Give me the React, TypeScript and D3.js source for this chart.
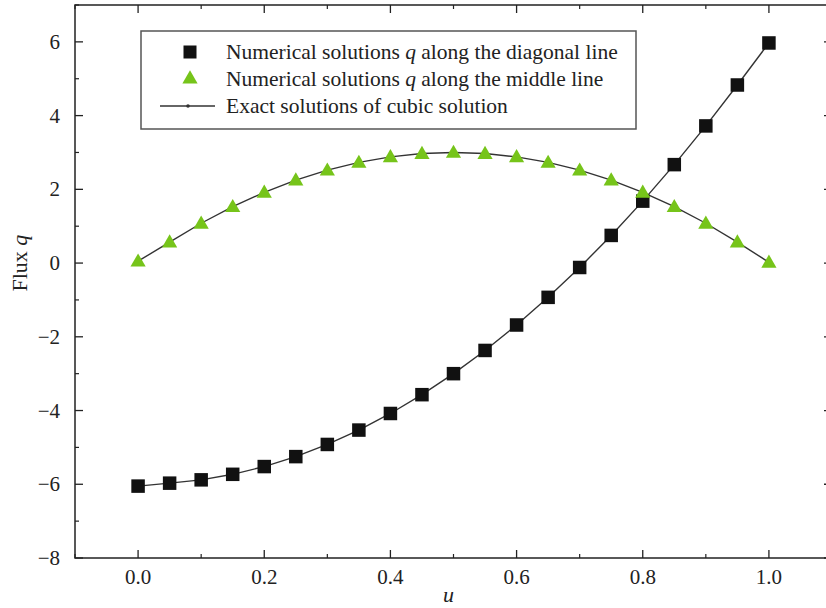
import React from "react";
import * as d3 from "d3";

const uValues = [0, 0.05, 0.1, 0.15, 0.2, 0.25, 0.3, 0.35, 0.4, 0.45, 0.5, 0.55, 0.6, 0.65, 0.7, 0.75, 0.8, 0.85, 0.9, 0.95, 1.0];
const diagonalQ = [-6.05, -5.97, -5.88, -5.73, -5.52, -5.25, -4.92, -4.53, -4.08, -3.57, -3.0, -2.37, -1.68, -0.93, -0.12, 0.75, 1.68, 2.67, 3.72, 4.83, 5.97];
const middleQ = [0.05, 0.57, 1.08, 1.53, 1.92, 2.25, 2.52, 2.73, 2.88, 2.97, 3.0, 2.97, 2.88, 2.73, 2.52, 2.25, 1.92, 1.53, 1.08, 0.57, 0.02];
const xTicks = [0, 0.2, 0.4, 0.6, 0.8, 1.0];
const xMinor = [-0.1, 0.1, 0.3, 0.5, 0.7, 0.9, 1.1];
const yTicks = [-8, -6, -4, -2, 0, 2, 4, 6];
const yMinor = [-7, -5, -3, -1, 1, 3, 5, 7];
const legendLabels = ["Numerical solutions ", "Numerical solutions ", "Exact solutions of cubic solution"];

const W = 826, H = 608;
const left = 75, top = 5, bottom = 558, right = 832;
const FONT = "'Liberation Serif', 'Times New Roman', serif";
const GREEN = "#76c41a";

export default function App() {
  const x = d3.scaleLinear().domain([-0.1, 1.1]).range([left, right]);
  const y = d3.scaleLinear().domain([-8, 7]).range([bottom, top]);
  const line = d3.line<number>().x((_, i) => x(uValues[i])).y((d) => y(d));
  const sq = 13.5;
  const tri = d3.symbol().type(d3.symbolTriangle).size(100)();
  const fs = 21;
  return (
    <svg width={W} height={H} style={{ position: "absolute", left: 0, top: 0, background: "#fff" }}>
      <path d={line(middleQ) || ""} fill="none" stroke="#333" strokeWidth={1.4} />
      <path d={line(diagonalQ) || ""} fill="none" stroke="#333" strokeWidth={1.4} />
      {diagonalQ.map((v, i) => (
        <rect key={"s" + i} x={x(uValues[i]) - sq / 2} y={y(v) - sq / 2} width={sq} height={sq} fill="#111" />
      ))}
      {middleQ.map((v, i) => (
        <path key={"t" + i} d={tri || ""} transform={`translate(${x(uValues[i])},${y(v) + 1})`} fill={GREEN} />
      ))}
      {/* frame */}
      <rect x={left} y={top} width={right - left} height={bottom - top} fill="none" stroke="#222" strokeWidth={1.5} />
      {xTicks.map((t) => (
        <g key={"xt" + t}>
          <line x1={x(t)} x2={x(t)} y1={bottom} y2={bottom - 8} stroke="#222" strokeWidth={1.3} />
          <line x1={x(t)} x2={x(t)} y1={top} y2={top + 8} stroke="#222" strokeWidth={1.3} />
          <text x={x(t)} y={bottom + 26} textAnchor="middle" fontFamily={FONT} fontSize={fs} fill="#222">
            {d3.format(".1f")(t)}
          </text>
        </g>
      ))}
      {xMinor.map((t) => (
        <g key={"xm" + t}>
          <line x1={x(t)} x2={x(t)} y1={bottom} y2={bottom - 4} stroke="#222" strokeWidth={1.2} />
          <line x1={x(t)} x2={x(t)} y1={top} y2={top + 4} stroke="#222" strokeWidth={1.2} />
        </g>
      ))}
      {yTicks.map((t) => (
        <g key={"yt" + t}>
          <line x1={left} x2={left + 8} y1={y(t)} y2={y(t)} stroke="#222" strokeWidth={1.3} />
          <line x1={right} x2={right - 8} y1={y(t)} y2={y(t)} stroke="#222" strokeWidth={1.3} />
          <text x={left - 15} y={y(t) + 7} textAnchor="end" fontFamily={FONT} fontSize={fs} fill="#222">
            {t < 0 ? "\u2212" + Math.abs(t) : String(t)}
          </text>
        </g>
      ))}
      {yMinor.map((t) => (
        <g key={"ym" + t}>
          <line x1={left} x2={left + 4} y1={y(t)} y2={y(t)} stroke="#222" strokeWidth={1.2} />
          <line x1={right} x2={right - 4} y1={y(t)} y2={y(t)} stroke="#222" strokeWidth={1.2} />
        </g>
      ))}
      <text x={x(0.5) - 5} y={602} textAnchor="middle" fontFamily={FONT} fontSize={22} fontStyle="italic" fill="#222">u</text>
      <text transform={`translate(27,${y(0)}) rotate(-90)`} textAnchor="middle" fontFamily={FONT} fontSize={22} fill="#222">
        Flux <tspan fontStyle="italic">q</tspan>
      </text>
      {/* legend */}
      <rect x={141} y={31} width={495} height={98} fill="#fff" stroke="#555" strokeWidth={1.5} />
      <rect x={190 - 6.5} y={52 - 6.5} width={13} height={13} fill="#111" />
      <path d={tri || ""} transform="translate(190,79)" fill={GREEN} />
      <line x1={160} x2={215} y1={106} y2={106} stroke="#333" strokeWidth={1.4} />
      <circle cx={188} cy={106} r={1.8} fill="#333" />
      <text x={226} y={59} fontFamily={FONT} fontSize={21.5} fill="#222">
        {legendLabels[0]}<tspan fontStyle="italic">q</tspan> along the diagonal line
      </text>
      <text x={226} y={86} fontFamily={FONT} fontSize={21.5} fill="#222">
        {legendLabels[1]}<tspan fontStyle="italic">q</tspan> along the middle line
      </text>
      <text x={226} y={113} fontFamily={FONT} fontSize={21.5} fill="#222">{legendLabels[2]}</text>
    </svg>
  );
}
